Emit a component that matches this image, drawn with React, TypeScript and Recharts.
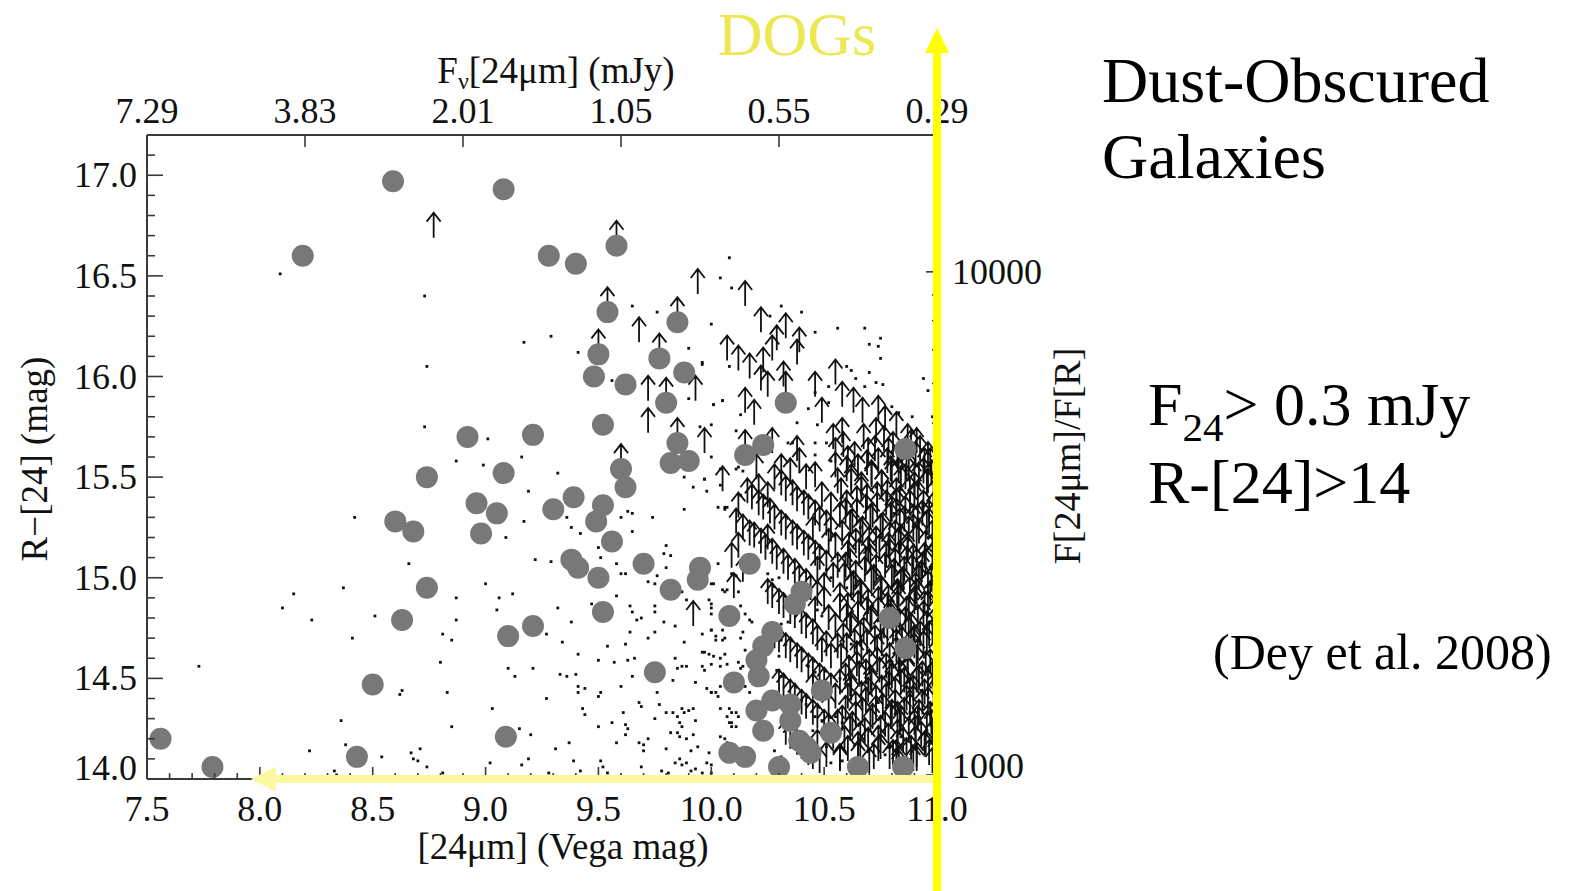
import { ScatterChart, Scatter, XAxis, YAxis, ReferenceLine } from 'recharts'

// [24um] Vega mag vs R-[24] colour, Dey et al. 2008 style DOG selection plot

const xMajorTicks = [7.5, 8.0, 8.5, 9.0, 9.5, 10.0, 10.5, 11.0]
const yMajorTicks = [14.0, 14.5, 15.0, 15.5, 16.0, 16.5, 17.0]
const topTickMags = [7.5, 8.2, 8.9, 9.6, 10.3, 11.0]
const topTickLabels = ['7.29', '3.83', '2.01', '1.05', '0.55', '0.29']
const ratioTicks = [1000, 2000, 3000, 4000, 5000, 6000, 7000, 8000, 9000, 10000]
const ratioLabels = ['1000', '', '', '', '', '', '', '', '', '10000']

// DOGs with R-band detections (grey disks)
const detectedDogs: [number, number][] = [
  [8.59, 16.97], [9.08, 16.93], [8.19, 16.6], [9.28, 16.6], [9.4, 16.56], [9.58, 16.65], [9.54, 16.32], [9.85, 16.27],
  [9.5, 16.11], [9.48, 16.0], [9.62, 15.96], [9.77, 16.09], [9.88, 16.02], [9.8, 15.87], [9.52, 15.76], [9.21, 15.71],
  [8.92, 15.7], [9.85, 15.67], [9.82, 15.57], [9.9, 15.58], [9.6, 15.54], [9.62, 15.45], [9.39, 15.4], [9.3, 15.34],
  [9.52, 15.36], [9.49, 15.28], [9.56, 15.18], [9.38, 15.09], [9.41, 15.05], [9.5, 15.0], [9.7, 15.07], [9.82, 14.94],
  [9.95, 15.05], [9.94, 14.99], [9.52, 14.83], [9.21, 14.76], [10.08, 14.81], [9.75, 14.53], [10.1, 14.48], [10.08, 14.13],
  [10.15, 14.11], [8.74, 15.5], [9.08, 15.52], [8.96, 15.37], [9.05, 15.32], [8.6, 15.28], [8.68, 15.23], [8.98, 15.22],
  [8.74, 14.95], [8.63, 14.79], [9.1, 14.71], [8.5, 14.47], [7.56, 14.2], [9.09, 14.21], [8.43, 14.11], [7.79, 14.06],
  [10.17, 15.07], [10.4, 14.93], [10.37, 14.87], [10.79, 14.8], [10.27, 14.73], [10.86, 14.65], [10.23, 14.66], [10.2, 14.59],
  [10.21, 14.51], [10.49, 14.44], [10.27, 14.39], [10.2, 14.34], [10.35, 14.37], [10.35, 14.29], [10.23, 14.24], [10.53, 14.23],
  [10.39, 14.19], [10.44, 14.13], [10.42, 14.16], [10.3, 14.06], [10.65, 14.06], [10.85, 14.06], [10.33, 15.87], [10.23, 15.66],
  [10.15, 15.61], [10.86, 15.64],
]

// lower limits (R-band non-detections), sparse upper envelope
const limitArrowsSparse: [number, number][] = [
  [8.77, 16.69], [9.58, 16.65], [9.54, 16.32], [9.85, 16.27], [9.5, 16.11], [9.77, 16.09], [9.8, 15.87], [9.85, 15.67],
  [9.6, 15.54], [9.68, 16.17], [9.72, 15.88], [9.93, 15.88], [9.72, 15.72], [9.97, 15.62], [10.05, 15.43], [10.11, 15.22],
  [10.12, 15.1], [9.92, 14.76], [10.07, 16.08], [10.12, 16.03], [10.15, 15.82], [9.94, 16.41], [10.15, 16.35], [10.25, 15.14],
  [10.22, 16.22], [10.33, 16.19], [10.29, 16.13], [10.27, 16.08], [10.39, 16.12], [10.38, 16.06], [10.17, 15.99], [10.23, 16.02],
  [10.22, 15.93], [10.25, 15.9], [10.32, 15.95], [10.33, 15.9], [10.55, 15.96], [10.46, 15.9], [10.58, 15.85], [10.19, 15.76],
  [10.49, 15.77], [10.63, 15.82], [10.67, 15.77], [10.74, 15.78], [10.77, 15.73], [10.82, 15.7], [10.73, 15.67], [10.15, 15.61],
  [10.27, 15.62], [10.38, 15.58], [10.54, 15.64], [10.58, 15.67], [10.55, 15.57], [10.87, 15.64], [10.91, 15.62], [10.96, 15.55],
  [10.2, 15.49], [10.25, 15.35], [10.21, 15.39], [10.31, 15.49], [10.35, 15.47], [10.42, 15.44], [10.39, 15.52],
]

// lower limits along the diagonal R-limit streaks
const limitArrowsStreaks: [number, number][] = [
  [10.28, 15.44], [10.33, 15.38], [10.38, 15.33], [10.43, 15.29], [10.48, 15.23], [10.53, 15.18],
  [10.16, 15.37], [10.21, 15.31], [10.26, 15.27], [10.31, 15.21], [10.36, 15.16], [10.41, 15.11], [10.46, 15.06], [10.51, 15.01],
  [10.14, 15.19], [10.19, 15.15], [10.24, 15.09], [10.29, 15.04], [10.34, 14.99], [10.39, 14.94], [10.44, 14.89], [10.5, 14.83],
  [10.25, 14.87], [10.3, 14.82], [10.35, 14.77], [10.4, 14.72], [10.45, 14.67], [10.51, 14.61],
  [10.28, 14.65], [10.33, 14.6], [10.38, 14.55], [10.43, 14.5], [10.48, 14.45], [10.53, 14.4],
  [10.3, 14.42], [10.35, 14.37], [10.4, 14.32], [10.45, 14.27], [10.5, 14.22],
  [10.33, 14.17], [10.38, 14.12], [10.43, 14.07], [10.48, 14.03],
  [10.55, 15.5], [10.53, 15.3], [10.55, 15.1], [10.54, 14.95], [10.55, 14.7], [10.53, 14.55], [10.55, 14.35], [10.54, 14.15],
  [10.31, 15.41], [10.36, 15.36], [10.41, 15.31], [10.46, 15.26], [10.51, 15.21],
  [10.18, 15.34], [10.23, 15.29], [10.28, 15.24], [10.33, 15.19], [10.38, 15.14], [10.43, 15.09], [10.48, 15.04],
  [10.17, 15.16], [10.22, 15.12], [10.27, 15.07], [10.32, 15.02], [10.37, 14.97], [10.42, 14.92], [10.47, 14.86],
  [10.27, 14.85], [10.32, 14.8], [10.37, 14.75], [10.42, 14.7], [10.47, 14.64],
  [10.3, 14.63], [10.35, 14.58], [10.4, 14.53], [10.45, 14.48], [10.5, 14.43],
  [10.32, 14.4], [10.37, 14.35], [10.42, 14.3], [10.47, 14.25], [10.52, 14.2],
  [10.35, 14.15], [10.4, 14.1], [10.45, 14.05],
  [10.12, 15.3], [10.09, 15.05], [10.14, 14.98], [10.1, 14.9],
  [10.46, 15.45], [10.49, 15.35], [10.45, 15.18], [10.52, 15.12], [10.47, 14.98], [10.5, 14.9], [10.46, 14.78], [10.52, 14.74],
  [10.49, 14.58], [10.45, 14.4], [10.52, 14.3], [10.47, 14.12], [10.51, 14.06], [10.56, 15.42], [10.57, 15.25], [10.56, 15.0],
  [10.57, 14.8], [10.56, 14.6], [10.57, 14.42], [10.56, 14.22], [10.57, 14.05],
]

// lower limits in the faint, crowded corner
const limitArrowsDense: [number, number][] = [
  [10.97, 15.52], [10.955, 15.41], [10.985, 15.3], [10.965, 15.22], [10.99, 15.11], [10.95, 15.02], [10.975, 14.93], [10.96, 14.81],
  [10.985, 14.72], [10.955, 14.63], [10.97, 14.52], [10.99, 14.41], [10.96, 14.33], [10.975, 14.22], [10.95, 14.12], [10.98, 14.03],
  [10.925, 15.58], [10.94, 15.47], [10.915, 15.36], [10.935, 15.26], [10.92, 15.17], [10.945, 15.05], [10.93, 14.96], [10.91, 14.87],
  [10.94, 14.76], [10.925, 14.66], [10.915, 14.57], [10.935, 14.46], [10.945, 14.37], [10.92, 14.27], [10.93, 14.16], [10.91, 14.06],
  [10.885, 15.61], [10.875, 15.5], [10.9, 15.4], [10.88, 15.31], [10.895, 15.19], [10.87, 15.1], [10.89, 14.99], [10.905, 14.9],
  [10.875, 14.79], [10.885, 14.7], [10.9, 14.6], [10.87, 14.49], [10.895, 14.39], [10.88, 14.3], [10.905, 14.19], [10.885, 14.09],
  [10.845, 15.55], [10.86, 15.44], [10.835, 15.33], [10.855, 15.23], [10.84, 15.14], [10.865, 15.03], [10.85, 14.93], [10.83, 14.84],
  [10.86, 14.73], [10.845, 14.63], [10.835, 14.54], [10.855, 14.43], [10.865, 14.34], [10.84, 14.24], [10.85, 14.13], [10.83, 14.04],
  [10.805, 15.6], [10.795, 15.48], [10.82, 15.37], [10.8, 15.28], [10.815, 15.16], [10.79, 15.07], [10.81, 14.97], [10.825, 14.86],
  [10.795, 14.77], [10.805, 14.67], [10.82, 14.58], [10.79, 14.47], [10.815, 14.38], [10.8, 14.27], [10.825, 14.17], [10.805, 14.07],
  [10.765, 15.63], [10.78, 15.52], [10.755, 15.41], [10.775, 15.31], [10.76, 15.2], [10.785, 15.1], [10.77, 15.0], [10.75, 14.89],
  [10.78, 14.8], [10.765, 14.7], [10.755, 14.61], [10.775, 14.5], [10.785, 14.41], [10.76, 14.3], [10.77, 14.21], [10.75, 14.1],
  [10.725, 15.58], [10.71, 15.46], [10.735, 15.35], [10.715, 15.25], [10.73, 15.13], [10.705, 15.04], [10.72, 14.94], [10.74, 14.83],
  [10.71, 14.74], [10.725, 14.64], [10.735, 14.53], [10.705, 14.44], [10.73, 14.34], [10.715, 14.25], [10.74, 14.14], [10.72, 14.05],
  [10.675, 15.64], [10.69, 15.51], [10.665, 15.4], [10.685, 15.29], [10.67, 15.18], [10.695, 15.08], [10.68, 14.98], [10.66, 14.87],
  [10.69, 14.78], [10.675, 14.68], [10.665, 14.57], [10.685, 14.47], [10.695, 14.38], [10.67, 14.28], [10.68, 14.18], [10.66, 14.08],
  [10.635, 15.55], [10.62, 15.44], [10.645, 15.33], [10.625, 15.22], [10.64, 15.12], [10.615, 15.02], [10.63, 14.91], [10.65, 14.81],
  [10.62, 14.71], [10.635, 14.62], [10.645, 14.51], [10.615, 14.41], [10.64, 14.31], [10.625, 14.21], [10.65, 14.11],
  [10.585, 15.6], [10.6, 15.48], [10.575, 15.37], [10.595, 15.27], [10.58, 15.16], [10.605, 15.06], [10.59, 14.95], [10.57, 14.85],
  [10.6, 14.75], [10.585, 14.65], [10.575, 14.55], [10.595, 14.45], [10.605, 14.35], [10.58, 14.24], [10.59, 14.14], [10.57, 14.04],
  [10.99, 15.47], [10.985, 15.36], [10.995, 15.26], [10.98, 15.16], [10.99, 15.06], [10.995, 14.97], [10.985, 14.87], [10.99, 14.77],
  [10.98, 14.67], [10.995, 14.57], [10.99, 14.47], [10.985, 14.37], [10.995, 14.27], [10.98, 14.17], [10.99, 14.08],
  [10.945, 15.52], [10.96, 15.42], [10.94, 15.31], [10.955, 15.21], [10.95, 15.11], [10.935, 15.0], [10.96, 14.91], [10.945, 14.81],
  [10.955, 14.71], [10.94, 14.61], [10.95, 14.51], [10.96, 14.42], [10.935, 14.32], [10.955, 14.21], [10.945, 14.11],
  [10.905, 15.55], [10.92, 15.45], [10.9, 15.35], [10.915, 15.24], [10.91, 15.14], [10.895, 15.04], [10.92, 14.94], [10.905, 14.84],
  [10.915, 14.74], [10.9, 14.64], [10.91, 14.54], [10.92, 14.44], [10.895, 14.34], [10.915, 14.24], [10.905, 14.14], [10.91, 14.04],
  [10.865, 15.49], [10.88, 15.38], [10.86, 15.28], [10.875, 15.18], [10.87, 15.08], [10.855, 14.98], [10.88, 14.88], [10.865, 14.78],
  [10.875, 14.68], [10.86, 14.58], [10.87, 14.48], [10.88, 14.38], [10.855, 14.28], [10.875, 14.18], [10.865, 14.08],
  [10.825, 15.54], [10.84, 15.43], [10.82, 15.32], [10.835, 15.22], [10.83, 15.12], [10.815, 15.02], [10.84, 14.92], [10.825, 14.81],
  [10.835, 14.72], [10.82, 14.62], [10.83, 14.52], [10.84, 14.42], [10.815, 14.32], [10.835, 14.22], [10.825, 14.12], [10.83, 14.02],
  [10.785, 15.57], [10.8, 15.46], [10.78, 15.36], [10.795, 15.25], [10.79, 15.15], [10.775, 15.05], [10.8, 14.94], [10.785, 14.84],
  [10.795, 14.75], [10.78, 14.65], [10.79, 14.55], [10.8, 14.45], [10.775, 14.35], [10.795, 14.25], [10.785, 14.15], [10.79, 14.05],
  [10.74, 15.52], [10.755, 15.41], [10.735, 15.3], [10.75, 15.19], [10.745, 15.09], [10.73, 14.99], [10.755, 14.88],
  [10.74, 14.78], [10.75, 14.69], [10.735, 14.59], [10.745, 14.48], [10.755, 14.39], [10.73, 14.29], [10.75, 14.19], [10.74, 14.09],
  [10.695, 15.57], [10.71, 15.45], [10.69, 15.34], [10.705, 15.24], [10.7, 15.13], [10.685, 15.03], [10.71, 14.93], [10.695, 14.82],
  [10.705, 14.73], [10.69, 14.62], [10.7, 14.52], [10.71, 14.42], [10.685, 14.33], [10.705, 14.23], [10.695, 14.13], [10.7, 14.03],
  [10.65, 15.49], [10.665, 15.38], [10.645, 15.27], [10.66, 15.17], [10.655, 15.07], [10.64, 14.96], [10.665, 14.86],
  [10.65, 14.76], [10.66, 14.66], [10.645, 14.56], [10.655, 14.46], [10.665, 14.36], [10.64, 14.26], [10.66, 14.16], [10.65, 14.06],
  [10.605, 15.53], [10.62, 15.42], [10.6, 15.31], [10.615, 15.21], [10.61, 15.1], [10.595, 15.0], [10.62, 14.9], [10.605, 14.8],
  [10.615, 14.7], [10.6, 14.6], [10.61, 14.49], [10.62, 14.39], [10.595, 14.29], [10.615, 14.19], [10.605, 14.09],
  [10.975, 15.46], [10.965, 15.26], [10.98, 15.05], [10.97, 14.86], [10.965, 14.66], [10.98, 14.46], [10.97, 14.26], [10.965, 14.07],
  [10.9, 15.45], [10.895, 15.24], [10.91, 15.02], [10.9, 14.82], [10.895, 14.63], [10.91, 14.43], [10.9, 14.22], [10.895, 14.04],
  [10.83, 15.47], [10.82, 15.27], [10.835, 15.06], [10.825, 14.87], [10.82, 14.67], [10.835, 14.47], [10.825, 14.26], [10.82, 14.07],
]

// 24um sources without DOG colours (small dots)
const fieldDots: [number, number][] = [
  [8.09, 16.51], [8.73, 16.4], [9.17, 16.17], [8.74, 16.05], [8.73, 15.75], [9.01, 15.69], [9.16, 15.6], [8.87, 15.58],
  [8.99, 15.56], [9.19, 15.43], [8.42, 15.3], [9.17, 15.28], [9.09, 15.2], [9.22, 15.09], [8.66, 15.07], [8.37, 14.95],
  [8.15, 14.92], [8.1, 14.85], [8.23, 14.79], [8.51, 14.81], [8.41, 14.7], [9.0, 14.97], [8.87, 14.9], [9.06, 14.9],
  [9.12, 14.92], [9.05, 14.84], [8.87, 14.79], [8.81, 14.72], [8.85, 14.69], [7.73, 14.56], [8.8, 14.58], [9.1, 14.55],
  [9.13, 14.51], [9.21, 14.55], [8.63, 14.44], [8.62, 14.42], [8.83, 14.43], [9.03, 14.35], [8.36, 14.29], [8.85, 14.26],
  [9.15, 14.25], [9.2, 14.22], [8.38, 14.17], [8.22, 14.14], [8.54, 14.11], [8.67, 14.13], [8.68, 14.1], [8.7, 14.09],
  [8.71, 14.15], [8.74, 14.06], [9.02, 14.08], [9.19, 14.1], [9.16, 14.07], [8.33, 14.04], [8.34, 14.02], [8.81, 14.03],
  [9.65, 16.35], [9.76, 16.32], [9.29, 16.2], [9.41, 16.12], [10.0, 16.26], [9.9, 16.14], [9.96, 16.06], [9.56, 15.98],
  [9.9, 15.89], [10.01, 15.86], [10.05, 15.88], [10.13, 15.81], [10.0, 15.76], [9.95, 15.75], [10.0, 15.6], [9.88, 15.5],
  [9.97, 15.49], [9.92, 15.45], [9.98, 15.43], [10.11, 15.54], [9.32, 15.52], [9.88, 15.34], [10.03, 15.35], [10.06, 15.34],
  [9.63, 15.33], [9.65, 15.32], [9.74, 15.3], [9.6, 15.3], [9.36, 15.3], [9.38, 15.25], [9.42, 15.22], [9.65, 15.23],
  [9.8, 15.16], [9.79, 15.12], [9.82, 15.11], [9.5, 15.15], [9.51, 15.1], [9.29, 15.08], [9.58, 15.07], [9.8, 15.05],
  [9.6, 15.02], [9.62, 15.02], [10.03, 15.07], [10.09, 15.02], [9.76, 15.01], [9.72, 14.98], [9.75, 14.97], [10.0, 14.97],
  [10.07, 14.94], [10.05, 14.94], [10.12, 14.93], [9.87, 14.93], [9.89, 14.89], [9.58, 14.91], [10.0, 14.87], [9.32, 14.85],
  [9.47, 14.87], [9.64, 14.86], [9.65, 14.83], [9.75, 14.86], [9.75, 14.83], [10.0, 14.85], [10.0, 14.82], [9.67, 14.79],
  [9.69, 14.8], [9.38, 14.78], [9.79, 14.78], [9.84, 14.76], [9.96, 14.72], [10.0, 14.74], [10.05, 14.74], [10.06, 14.7],
  [10.02, 14.69], [9.64, 14.73], [9.75, 14.73], [9.72, 14.7], [9.27, 14.72], [9.34, 14.68], [9.88, 14.68], [9.54, 14.66],
  [9.62, 14.67], [9.97, 14.63], [10.01, 14.61], [10.04, 14.6], [10.06, 14.62], [9.41, 14.62], [9.5, 14.59], [9.57, 14.58],
  [9.63, 14.59], [9.66, 14.6], [9.84, 14.6], [9.33, 14.52], [9.36, 14.51], [9.4, 14.52], [9.65, 14.51], [9.87, 14.56],
  [9.89, 14.56], [9.85, 14.55], [9.96, 14.56], [9.97, 14.54], [10.0, 14.57], [10.12, 14.58], [10.13, 14.55], [9.83, 14.49],
  [9.93, 14.48], [9.41, 14.46], [9.44, 14.45], [9.6, 14.46], [9.98, 14.45], [10.0, 14.43], [10.02, 14.43], [9.51, 14.43],
  [9.5, 14.41], [9.41, 14.43], [9.76, 14.43], [10.04, 14.46], [9.27, 14.4], [9.68, 14.38], [9.69, 14.36], [9.77, 14.37],
  [9.43, 14.35], [9.44, 14.32], [9.61, 14.33], [9.8, 14.33], [9.83, 14.33], [9.85, 14.31], [9.87, 14.35], [9.88, 14.33],
  [9.9, 14.34], [9.92, 14.35], [10.04, 14.35], [10.08, 14.35], [10.09, 14.33], [10.11, 14.33], [10.12, 14.31], [9.75, 14.3],
  [9.93, 14.29], [9.56, 14.28], [9.62, 14.27], [9.63, 14.25], [9.86, 14.28], [9.87, 14.26], [10.08, 14.28], [10.09, 14.26],
  [9.5, 14.26], [9.62, 14.22], [9.82, 14.23], [9.85, 14.23], [9.86, 14.21], [9.89, 14.2], [9.92, 14.22], [9.68, 14.18],
  [9.7, 14.17], [9.72, 14.2], [9.37, 14.18], [9.58, 14.18], [10.06, 14.2], [10.07, 14.17], [9.31, 14.15], [9.8, 14.15],
  [9.91, 14.14], [9.94, 14.16], [9.7, 14.14], [9.99, 14.13], [9.39, 14.09], [9.51, 14.09], [9.52, 14.06], [9.69, 14.06],
  [9.84, 14.08], [9.86, 14.1], [9.87, 14.07], [9.89, 14.08], [9.91, 14.04], [9.93, 14.05], [9.78, 14.04], [9.81, 14.03],
  [9.28, 14.03], [9.42, 14.04], [9.96, 14.03], [10.0, 14.03], [9.54, 14.03],
  [10.11, 15.01], [10.01, 14.97], [10.06, 14.93], [10.25, 15.02], [10.27, 14.99], [10.3, 15.0], [9.99, 14.89], [10.13, 14.86],
  [10.15, 14.82], [10.18, 14.78], [10.17, 14.79], [10.0, 14.74], [10.02, 14.71], [10.05, 14.69], [10.14, 14.73], [10.13, 14.7],
  [9.96, 14.63], [9.99, 14.62], [10.15, 14.64], [10.04, 14.56], [10.07, 14.57], [10.14, 14.56], [10.0, 14.43], [10.03, 14.41],
  [10.15, 14.46], [10.17, 14.43], [10.29, 14.54], [10.31, 14.51], [10.3, 14.61], [10.31, 14.69], [10.33, 14.67], [10.31, 14.77],
  [10.34, 14.78], [10.43, 14.56], [10.46, 14.53], [10.4, 14.39], [10.42, 14.37], [10.46, 14.31], [10.49, 14.29], [10.45, 14.24],
  [10.07, 14.31], [10.09, 14.28], [10.11, 14.26], [10.04, 14.21], [10.07, 14.18], [9.98, 14.08], [10.0, 14.07], [10.28, 14.14],
  [10.31, 14.11], [10.51, 14.16], [10.53, 14.08], [10.58, 14.09], [10.61, 14.07], [10.55, 14.31], [10.58, 14.28], [10.51, 15.04],
  [10.53, 15.0], [10.47, 14.84], [10.49, 14.81], [10.6, 14.95], [10.62, 14.92],
  [10.08, 16.59], [10.04, 16.49], [10.09, 16.44], [10.31, 16.35], [10.4, 16.32], [10.26, 16.3], [10.46, 16.22], [10.56, 16.24],
  [10.68, 16.24], [10.75, 16.19], [10.74, 16.15], [10.7, 16.16], [10.75, 16.09], [10.6, 16.05], [10.62, 16.03], [9.96, 16.07],
  [10.08, 16.05], [10.73, 15.97], [10.76, 15.96], [10.64, 15.99], [10.7, 16.02], [10.68, 15.95], [10.94, 15.99], [10.96, 15.93],
  [10.01, 15.86], [10.05, 15.88], [10.43, 15.84], [10.46, 15.92], [10.52, 15.95], [10.52, 15.87], [10.8, 15.85], [10.83, 15.82],
  [10.98, 15.8], [10.38, 15.77], [10.47, 15.76], [10.11, 15.73], [10.89, 15.8], [10.34, 15.67], [10.36, 15.67], [10.46, 15.67],
  [10.51, 15.67], [10.46, 15.61], [10.53, 15.58], [10.04, 15.54], [9.97, 15.49], [10.12, 15.55], [10.14, 15.53], [10.04, 15.46],
  [10.06, 15.35], [10.07, 15.35], [10.13, 15.41],
  [10.58, 15.4], [10.66, 15.25], [10.71, 15.05], [10.79, 14.85], [10.86, 14.62], [10.93, 14.44], [10.62, 14.67], [10.74, 14.38],
  [10.84, 14.21], [10.91, 14.95], [10.96, 15.2], [10.69, 14.48], [10.77, 14.12], [10.88, 14.33], [10.64, 14.96], [10.57, 14.5],
  [10.81, 15.32], [10.95, 14.75], [10.73, 15.45], [10.6, 15.12],
]

const W = 1593
const H = 891
const FONT = '"Liberation Serif", "Times New Roman", serif'
const AXIS = '#3a3a3a'

const toPoints = (rows: [number, number][]) => rows.map(([x, y]) => ({ x, y }))
const near = (a: number, list: number[]) => list.some((t) => Math.abs(t - a) < 1e-6)
const ratioToMag = (r: number) => 14.02 + 2.5 * Math.log10(r / 1000)

const xTicks = Array.from({ length: 36 }, (_, i) => Math.round((7.5 + i * 0.1) * 10) / 10)
const yTicks = Array.from({ length: 33 }, (_, i) => Math.round((14 + i * 0.1) * 10) / 10)
const rightTicks = ratioTicks.map(ratioToMag)
const allArrows = [...limitArrowsSparse, ...limitArrowsStreaks, ...limitArrowsDense]

function BottomTick(props: any) {
  const { x, y, payload } = props
  const major = near(payload.value, xMajorTicks)
  return (
    <g>
      <line x1={x} x2={x} y1={y} y2={y - (major ? 12 : 6)} stroke={AXIS} strokeWidth={1.6} />
      {major && (
        <text x={x} y={y + 42} textAnchor="middle" fontFamily={FONT} fontSize={36} fill="#111">
          {payload.value.toFixed(1)}
        </text>
      )}
    </g>
  )
}

function TopTick(props: any) {
  const { x, y, index } = props
  return (
    <g>
      <line x1={x} x2={x} y1={y} y2={y + 12} stroke={AXIS} strokeWidth={1.6} />
      <text x={x} y={y - 12} textAnchor="middle" fontFamily={FONT} fontSize={36} fill="#111">
        {topTickLabels[index]}
      </text>
    </g>
  )
}

function LeftTick(props: any) {
  const { x, y, payload } = props
  const major = near(payload.value, yMajorTicks)
  const lift = payload.value < 14.05 ? -11 : 0
  return (
    <g>
      <line x1={x} x2={x + (major ? 16 : 8)} y1={y} y2={y} stroke={AXIS} strokeWidth={1.6} />
      {major && (
        <text x={x - 10} y={y + 12 + lift} textAnchor="end" fontFamily={FONT} fontSize={36} fill="#111">
          {payload.value.toFixed(1)}
        </text>
      )}
    </g>
  )
}

function RightTick(props: any) {
  const { x, y, index } = props
  const label = ratioLabels[index]
  const lift = index === 0 ? -9 : 0
  return (
    <g>
      <line x1={x} x2={x - (label ? 11 : 5)} y1={y} y2={y} stroke={AXIS} strokeWidth={1.6} />
      {label && (
        <text x={x + 15} y={y + 12 + lift} textAnchor="start" fontFamily={FONT} fontSize={36} fill="#111">
          {label}
        </text>
      )}
    </g>
  )
}

const DotShape = (p: any) => <rect x={p.cx - 1.4} y={p.cy - 1.4} width={2.8} height={2.8} fill="#111" />

const ArrowShape = (p: any) => {
  const { cx, cy } = p
  return (
    <path
      d={`M${cx},${cy} V${cy - 25} M${cx - 7},${cy - 16} L${cx},${cy - 25} L${cx + 7},${cy - 16}`}
      stroke="#111"
      strokeWidth={1.8}
      fill="none"
    />
  )
}

const DiskShape = (p: any) => <circle cx={p.cx} cy={p.cy} r={11} fill="#787878" />

const DogsArrow = (p: any) => {
  const x = p.x1
  return (
    <g>
      <rect x={x - 4} y={50} width={8} height={H - 50} fill="#ffff00" />
      <polygon points={`${x - 12},53 ${x + 12},53 ${x},28`} fill="#ffff00" />
    </g>
  )
}

const FluxArrow = (p: any) => {
  const { x1, x2, y1 } = p
  return (
    <g>
      <rect x={x1 + 22} y={y1 - 4} width={x2 - x1 - 18} height={8} fill="#fcf8a2" />
      <polygon points={`${x1},${y1} ${x1 + 25},${y1 - 12.5} ${x1 + 25},${y1 + 12.5}`} fill="#fcf8a2" />
    </g>
  )
}

export default function App() {
  return (
    <div style={{ position: 'absolute', left: 0, top: 0, width: W, height: H, background: '#fff' }}>
      <ScatterChart width={W} height={H} margin={{ top: 105, right: 596, bottom: 82, left: 87 }}>
        <XAxis
          xAxisId="b"
          dataKey="x"
          type="number"
          domain={[7.5, 11.0]}
          allowDataOverflow
          ticks={xTicks}
          interval={0}
          height={30}
          tickSize={0}
          tickMargin={0}
          tickLine={false}
          axisLine={{ stroke: AXIS, strokeWidth: 2 }}
          tick={BottomTick}
        />
        <XAxis
          xAxisId="t"
          orientation="top"
          dataKey="x"
          type="number"
          domain={[7.5, 11.0]}
          allowDataOverflow
          ticks={topTickMags}
          interval={0}
          height={30}
          tickSize={0}
          tickMargin={0}
          tickLine={false}
          axisLine={{ stroke: AXIS, strokeWidth: 2 }}
          tick={TopTick}
        />
        <YAxis
          yAxisId="l"
          dataKey="y"
          type="number"
          domain={[14.0, 17.2]}
          allowDataOverflow
          ticks={yTicks}
          interval={0}
          width={60}
          tickSize={0}
          tickMargin={0}
          tickLine={false}
          axisLine={{ stroke: AXIS, strokeWidth: 2 }}
          tick={LeftTick}
        />
        <YAxis
          yAxisId="r"
          orientation="right"
          dataKey="y"
          type="number"
          domain={[14.0, 17.2]}
          allowDataOverflow
          ticks={rightTicks}
          interval={0}
          width={60}
          tickSize={0}
          tickMargin={0}
          tickLine={false}
          axisLine={{ stroke: AXIS, strokeWidth: 2 }}
          tick={RightTick}
        />
        <Scatter xAxisId="b" yAxisId="l" data={toPoints(fieldDots)} shape={DotShape} isAnimationActive={false} />
        <Scatter xAxisId="b" yAxisId="l" data={toPoints(allArrows)} shape={ArrowShape} isAnimationActive={false} />
        <Scatter xAxisId="b" yAxisId="l" data={toPoints(detectedDogs)} shape={DiskShape} isAnimationActive={false} />
        <ReferenceLine
          xAxisId="b"
          yAxisId="l"
          segment={[{ x: 7.96, y: 14.0 }, { x: 11.0, y: 14.0 }]}
          shape={FluxArrow}
          zIndex={2000}
        />
        <ReferenceLine xAxisId="b" yAxisId="l" x={11.0} shape={DogsArrow} zIndex={2100} />
      </ScatterChart>

      <svg
        width={W}
        height={H}
        style={{ position: 'absolute', left: 0, top: 0, pointerEvents: 'none' }}
        fontFamily={FONT}
      >
        <text x={556} y={83} textAnchor="middle" fontSize={37} fill="#111">
          F<tspan fontSize={24} dy={6}>ν</tspan>
          <tspan dy={-6}>[24μm] (mJy)</tspan>
        </text>
        <text x={563} y={859} textAnchor="middle" fontSize={37} fill="#111">
          [24μm] (Vega mag)
        </text>
        <text x={47} y={459} textAnchor="middle" fontSize={37} fill="#111" transform="rotate(-90 47 459)">
          R−[24] (mag)
        </text>
        <text x={1080} y={456} textAnchor="middle" fontSize={38} fill="#111" transform="rotate(-90 1080 456)">
          F[24μm]/F[R]
        </text>

        <text x={797} y={55} textAnchor="middle" fontSize={62} fill="#ebe852">
          DOGs
        </text>
        <text x={1102} y={102} fontSize={64} fill="#000">
          Dust-Obscured
        </text>
        <text x={1102} y={178} fontSize={64} fill="#000">
          Galaxies
        </text>
        <text x={1148} y={425} fontSize={62} fill="#000">
          F<tspan fontSize={41} dy={16}>24</tspan>
          <tspan dy={-16}>&gt; 0.3 mJy</tspan>
        </text>
        <text x={1148} y={503} fontSize={62} fill="#000">
          R-[24]&gt;14
        </text>
        <text x={1213} y={669} fontSize={50} fill="#000">
          (Dey et al. 2008)
        </text>
      </svg>
    </div>
  )
}
